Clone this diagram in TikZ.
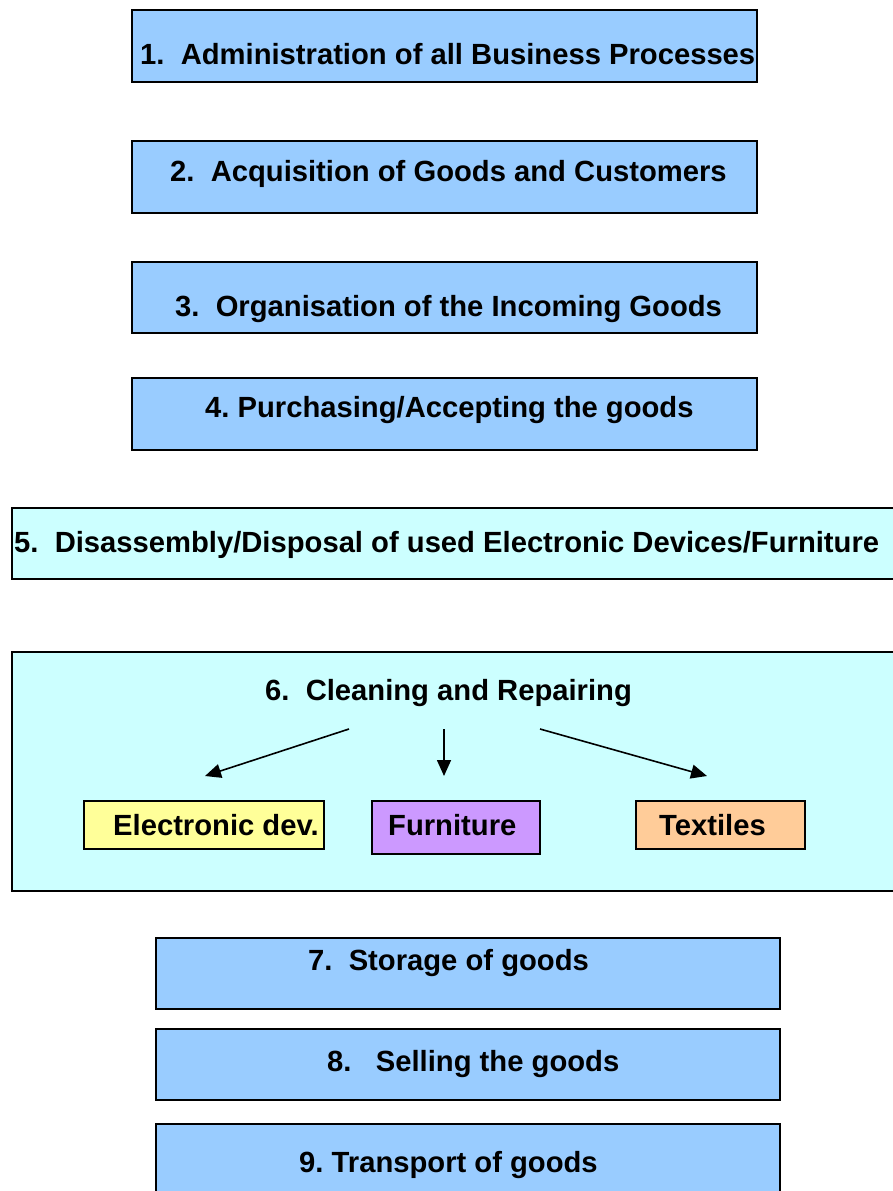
\documentclass[tikz,border=0pt]{standalone}
\usepackage{fontspec}
\setmainfont{Liberation Sans}
\usetikzlibrary{arrows.meta}
\definecolor{boxblue}{HTML}{99CCFF}
\definecolor{boxcyan}{HTML}{CCFFFF}
\definecolor{boxyellow}{HTML}{FFFF99}
\definecolor{boxpurple}{HTML}{CC99FF}
\definecolor{boxorange}{HTML}{FFCC99}
\frenchspacing
\begin{document}
\begin{tikzpicture}[x=1pt,y=-1pt,
  frame/.style={draw=black,line width=1.8pt},
  lbl/.style={anchor=base west,inner sep=0pt,font=\fontsize{29.2}{34}\selectfont\bfseries},
  arr/.style={line width=1.6pt,-{Triangle[length=16pt,width=14pt]}}]
\useasboundingbox (0,0) rectangle (892,1191);
% boxes
\path[frame,fill=boxblue] (132,10) rectangle (757,82);
\node[lbl] (t1) at (140,64) {1.\ \ Administration of all Business Processes};
\path[frame,fill=boxblue] (132,141) rectangle (757,213);
\node[lbl] (t2) at (170,181) {2.\ \ Acquisition of Goods and Customers};
\path[frame,fill=boxblue] (132,262) rectangle (757,333);
\node[lbl] (t3) at (175,316) {3.\ \ Organisation of the Incoming Goods};
\path[frame,fill=boxblue] (132,378) rectangle (757,450);
\node[lbl] (t4) at (205,417) {4. Purchasing/Accepting the goods};
\path[frame,fill=boxcyan] (12,508) rectangle (900,579);
\node[lbl] (t5) at (14,552) {5.\ \ Disassembly/Disposal of used Electronic Devices/Furniture};
\path[frame,fill=boxcyan] (12,652) rectangle (900,891);
\node[lbl] (t6) at (265,700) {6.\ \ Cleaning and Repairing};
\path[frame,fill=boxyellow] (84,801) rectangle (324,849);
\node[lbl] (e) at (113,835) {Electronic dev.};
\path[frame,fill=boxpurple] (372,801) rectangle (540,854);
\node[lbl] (f) at (388,835) {Furniture};
\path[frame,fill=boxorange] (636,801) rectangle (805,849);
\node[lbl] (x) at (659,835) {Textiles};
\path[frame,fill=boxblue] (156,938) rectangle (780,1009);
\node[lbl] (t7) at (308,970) {7.\ \ Storage of goods};
\path[frame,fill=boxblue] (156,1029) rectangle (780,1100);
\node[lbl] (t8) at (327,1071) {8.\ \ \ Selling the goods};
\path[frame,fill=boxblue] (156,1124) rectangle (780,1210);
\node[lbl] (t9) at (299,1172) {9. Transport of goods};
% arrows
\coordinate (s1) at (349,729);
\coordinate (s2) at (444,729);
\coordinate (s3) at (540,729);
\coordinate (e1) at (205,776);
\coordinate (e2) at (444,776);
\coordinate (e3) at (707,776);
\draw[arr] (s1) -- (e1);
\draw[arr] (s2) -- (e2);
\draw[arr] (s3) -- (e3);
\end{tikzpicture}
\end{document}
